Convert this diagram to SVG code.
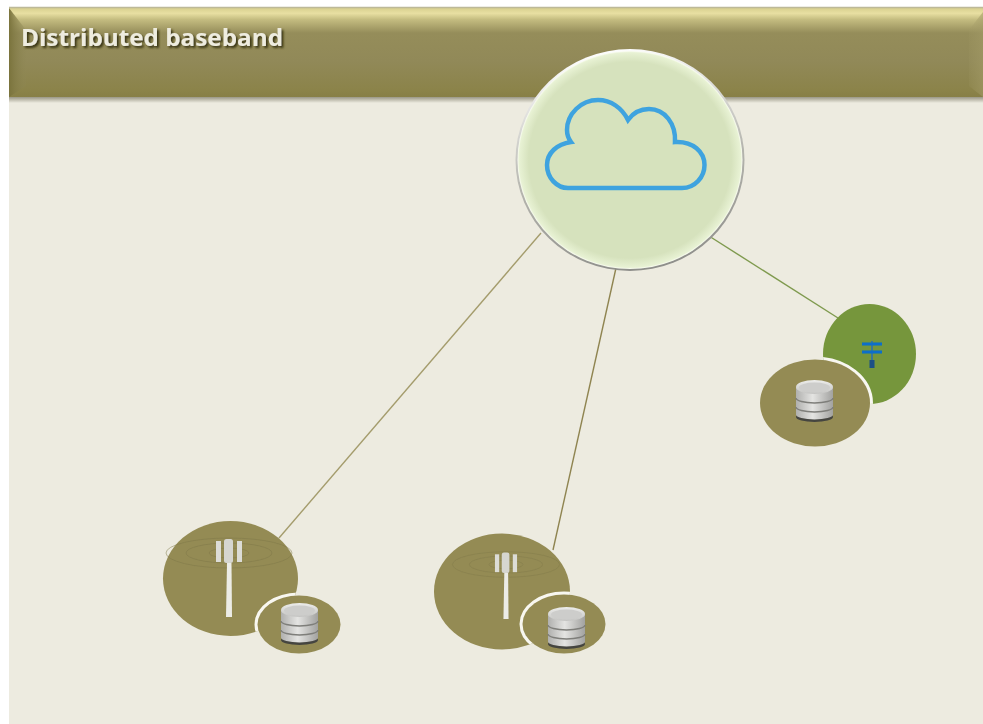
<svg xmlns="http://www.w3.org/2000/svg" width="983" height="724" viewBox="0 0 983 724">
<defs>
<linearGradient id="hdr" x1="0" y1="0" x2="0" y2="1"><stop offset="0" stop-color="#d8d08f"/><stop offset="0.06" stop-color="#e8dfa2"/><stop offset="0.13" stop-color="#c4bc80"/><stop offset="0.28" stop-color="#958d5a"/><stop offset="0.6" stop-color="#918958"/><stop offset="0.93" stop-color="#8b8349"/><stop offset="1" stop-color="#877f47"/></linearGradient>
<linearGradient id="left" x1="0" y1="0" x2="1" y2="0"><stop offset="0" stop-color="#7a733c"/><stop offset="1" stop-color="#8f8856" stop-opacity="0.2"/></linearGradient>
<linearGradient id="right" x1="0" y1="0" x2="1" y2="0"><stop offset="0" stop-color="#a29a66" stop-opacity="0.15"/><stop offset="1" stop-color="#a29a66" stop-opacity="0.6"/></linearGradient>
<linearGradient id="shade" x1="0" y1="0" x2="0" y2="1"><stop offset="0" stop-color="#9a9786"/><stop offset="1" stop-color="#edebe0"/></linearGradient>
<linearGradient id="ring" x1="0.35" y1="0" x2="0.55" y2="1"><stop offset="0" stop-color="#ffffff"/><stop offset="0.55" stop-color="#b5b5ae"/><stop offset="1" stop-color="#8e8e8a"/></linearGradient>
<radialGradient id="ball" cx="0.5" cy="0.5" r="0.5"><stop offset="0" stop-color="#d6e2bd"/><stop offset="0.9" stop-color="#d6e2bd"/><stop offset="0.985" stop-color="#e8f2d4"/><stop offset="1" stop-color="#fbfdf4"/></radialGradient>
<linearGradient id="steel" x1="0" y1="0" x2="1" y2="0"><stop offset="0" stop-color="#b0b0ae"/><stop offset="0.45" stop-color="#e4e4e2"/><stop offset="1" stop-color="#a2a2a0"/></linearGradient>
<linearGradient id="lid" x1="0" y1="0" x2="0" y2="1"><stop offset="0" stop-color="#ededeb"/><stop offset="1" stop-color="#c4c4c2"/></linearGradient>
<filter id="soft" x="-10%" y="-10%" width="120%" height="120%"><feGaussianBlur stdDeviation="0.5"/></filter>
<filter id="txt" x="-10%" y="-30%" width="120%" height="160%"><feGaussianBlur in="SourceAlpha" stdDeviation="1.1" result="b"/><feOffset in="b" dx="1.5" dy="1.5" result="o"/><feFlood flood-color="#35310f" flood-opacity="0.95"/><feComposite in2="o" operator="in" result="s"/><feGaussianBlur in="SourceGraphic" stdDeviation="0.35" result="g"/><feMerge><feMergeNode in="s"/><feMergeNode in="g"/></feMerge></filter>
<clipPath id="clipPole"><ellipse cx="869.5" cy="354" rx="46.5" ry="50"/></clipPath>
<clipPath id="clipT1"><ellipse cx="230.5" cy="578.5" rx="67.5" ry="57.5"/></clipPath>
<clipPath id="clipT2"><ellipse cx="502" cy="591.5" rx="68" ry="58"/></clipPath>
<g id="db" filter="url(#soft)">
<ellipse cx="0" cy="17" rx="18.5" ry="5" fill="#454540"/>
<path d="M-18.5 -13V14.500A18.500 5 0 0 0 18.500 14.500V-13Z" fill="url(#steel)"/>
<path d="M-18.500 -2A18.500 5 0 0 0 18.500 -2M-18.500 7A18.500 5 0 0 0 18.500 7" fill="none" stroke="#7e7e7a" stroke-width="1.400"/>
<ellipse cx="0" cy="-13" rx="18.500" ry="7" fill="url(#lid)"/>
<ellipse cx="0" cy="-12.500" rx="15.500" ry="5" fill="#cdcdcb"/>
</g>
<g id="tower" filter="url(#soft)">
<g fill="none" stroke="#7f7848" stroke-width="1" opacity="0.5"><ellipse cx="0" cy="0" rx="63" ry="15"/><ellipse cx="0" cy="0" rx="43" ry="10"/><ellipse cx="0" cy="0" rx="20" ry="5"/></g>
<rect x="-13" y="-12" width="5" height="21" fill="#dcdcd6"/>
<rect x="8" y="-12" width="5" height="21" fill="#dcdcd6"/>
<rect x="-5" y="-14" width="9" height="24" rx="2.500" fill="#d6d6d0"/>
<path d="M-2 10H2.500L3 64H-3Z" fill="#ecece6"/>
</g>
</defs>
<style>
.bg{fill:#edebe0}
.olive{fill:#948b54}
.rim{fill:none;stroke:#f8f7f0;stroke-width:6}
.c{fill:none;stroke-width:1.400}
</style>
<rect width="983" height="724" fill="#fff"/>
<rect class="bg" x="9" y="8" width="974" height="716"/>
<g id="header">
<rect x="9" y="97" width="974" height="6" fill="url(#shade)"/>
<rect x="9" y="8" width="974" height="89" fill="url(#hdr)"/>
<path d="M9 8L26 30V86L9 97Z" fill="url(#left)"/>
<path d="M983 12L969 30V86L983 97Z" fill="url(#right)"/>
<path d="M9 7.500H983" stroke="#bdb998" stroke-width="1.500"/>
<text x="21" y="46" font-family="'Open Sans','Liberation Sans',sans-serif" font-weight="700" font-size="24" fill="#eeecdf" textLength="262" lengthAdjust="spacingAndGlyphs" filter="url(#txt)">Distributed baseband</text>
</g>
<g id="connectors">
<path class="c" d="M541 233L279 538" stroke="#a49c6c"/>
<path class="c" d="M616 268L553 550" stroke="#8f8450"/>
<path class="c" d="M709 236L838 318" stroke="#7f9a4e"/>
</g>
<g id="cloud">
<ellipse cx="630" cy="160" rx="114.500" ry="111" fill="url(#ring)"/>
<ellipse cx="630" cy="160" rx="112.500" ry="109" fill="url(#ball)"/>
<path d="M568 188H682C695 188 704.500 177 704.500 165C704.500 152 693 141 675 142C676 124 665 109 649 109C640 109 633 113 628 120C622 108 611 100 598 100C581 100 567 114 567 130C567 134 568 138 571 142C557 144 547 153 547 165C547 178 557 188 568 188Z" fill="none" stroke="#3ea3df" stroke-width="4.500" stroke-linejoin="miter"/>
</g>
<g id="node-pole">
<ellipse cx="869.500" cy="354" rx="46.500" ry="50" fill="#76963c"/>
<ellipse class="rim" cx="815" cy="403" rx="55" ry="43.500" clip-path="url(#clipPole)"/>
<g filter="url(#soft)">
<path d="M872 341V362" stroke="#2a6fb5" stroke-width="1.500"/>
<path d="M862 344H882M862 352H882" stroke="#0d6ecb" stroke-width="3" fill="none"/>
<rect x="869.500" y="360" width="5" height="8" fill="#1d4f86"/>
</g>
</g>
<g id="node-db3">
<ellipse class="olive" cx="815" cy="403" rx="55" ry="43.500"/>
<use href="#db" x="814.500" y="400"/>
</g>
<g id="node-tower1">
<ellipse class="olive" cx="230.500" cy="578.500" rx="67.500" ry="57.500"/>
<ellipse class="rim" cx="299" cy="624.500" rx="41.500" ry="29" clip-path="url(#clipT1)"/>
<use href="#tower" x="229" y="553"/>
</g>
<g id="node-db1">
<ellipse class="olive" cx="299" cy="624.500" rx="41.500" ry="29"/>
<use href="#db" x="299.500" y="623"/>
</g>
<g id="node-tower2">
<ellipse class="olive" cx="502" cy="591.500" rx="68" ry="58"/>
<ellipse class="rim" cx="564" cy="624" rx="41.500" ry="29.500" clip-path="url(#clipT2)"/>
<use href="#tower" transform="translate(506 564.500) scale(.85)"/>
</g>
<g id="node-db2">
<ellipse class="olive" cx="564" cy="624" rx="41.500" ry="29.500"/>
<use href="#db" x="566.500" y="627"/>
</g>
</svg>
